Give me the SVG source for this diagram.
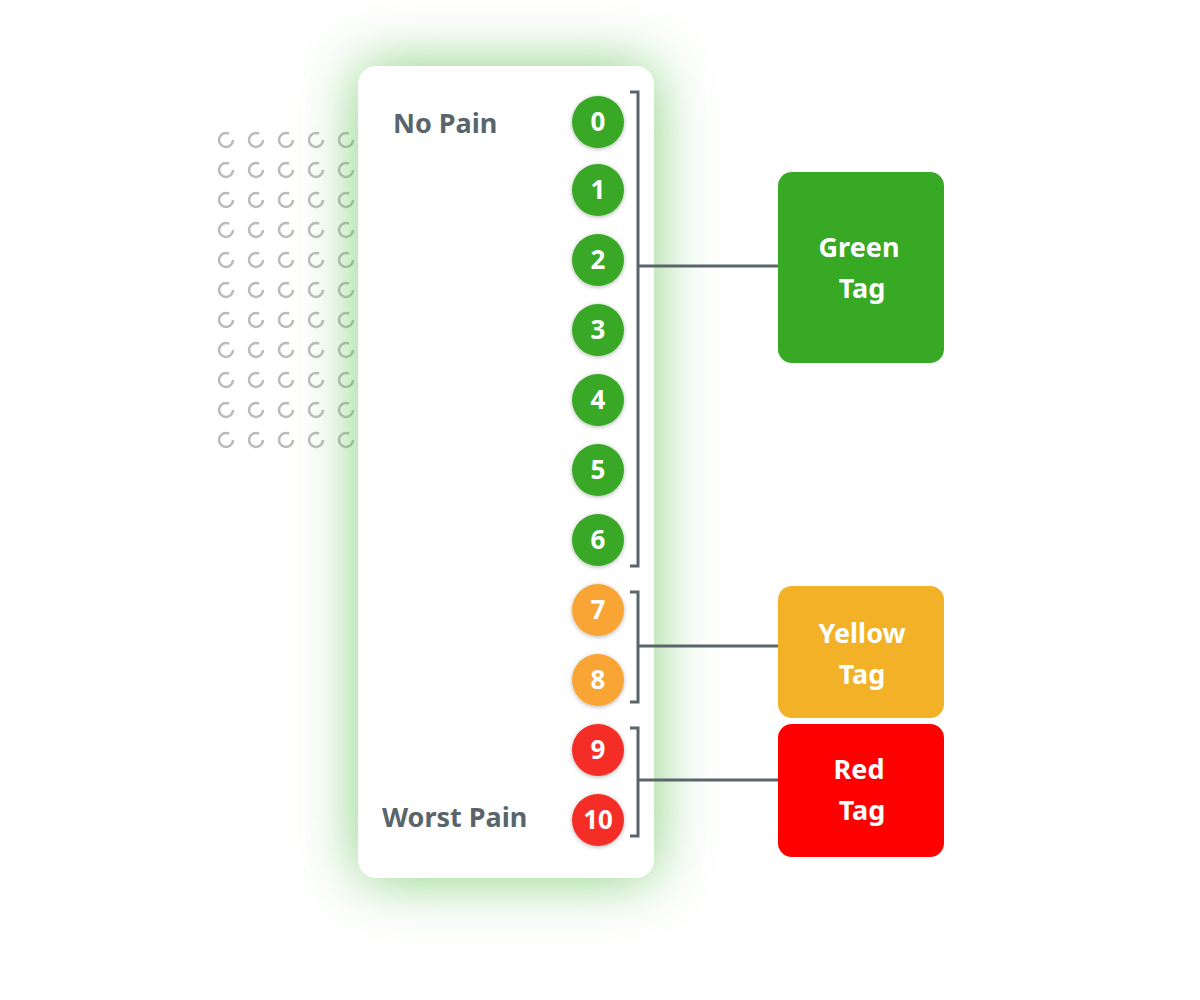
<svg xmlns="http://www.w3.org/2000/svg" width="1200" height="1000" viewBox="0 0 1200 1000">
<defs>
<filter id="glow" x="-50%" y="-30%" width="200%" height="160%"><feGaussianBlur stdDeviation="30"/></filter>
<filter id="sh" x="-30%" y="-30%" width="160%" height="160%"><feDropShadow dx="0" dy="1" stdDeviation="2" flood-color="#000" flood-opacity="0.3"/></filter>
<style>
.d{fill:none;stroke:#bbb;stroke-width:2.5;stroke-dasharray:36 8}
.lbl{font-family:"Noto Sans","Liberation Sans",sans-serif;font-weight:bold;font-size:27px;fill:#5a656b}
.n{font-family:"Noto Sans","Liberation Sans",sans-serif;font-weight:bold;font-size:26px;fill:#fff;text-anchor:middle}
.t{font-family:"Noto Sans","Liberation Sans",sans-serif;font-weight:bold;font-size:27px;fill:#fff;text-anchor:middle}
.g{fill:#38a825}.y{fill:#f9a535}.r{fill:#f42d25}
.c{fill:none;stroke:#5a656b;stroke-width:3}
</style>
</defs>
<g id="dots">
<g class="d">
<circle cx="226" cy="140" r="7"/><circle cx="256" cy="140" r="7"/><circle cx="286" cy="140" r="7"/><circle cx="316" cy="140" r="7"/><circle cx="346" cy="140" r="7"/>
<circle cx="226" cy="170" r="7"/><circle cx="256" cy="170" r="7"/><circle cx="286" cy="170" r="7"/><circle cx="316" cy="170" r="7"/><circle cx="346" cy="170" r="7"/>
<circle cx="226" cy="200" r="7"/><circle cx="256" cy="200" r="7"/><circle cx="286" cy="200" r="7"/><circle cx="316" cy="200" r="7"/><circle cx="346" cy="200" r="7"/>
<circle cx="226" cy="230" r="7"/><circle cx="256" cy="230" r="7"/><circle cx="286" cy="230" r="7"/><circle cx="316" cy="230" r="7"/><circle cx="346" cy="230" r="7"/>
<circle cx="226" cy="260" r="7"/><circle cx="256" cy="260" r="7"/><circle cx="286" cy="260" r="7"/><circle cx="316" cy="260" r="7"/><circle cx="346" cy="260" r="7"/>
<circle cx="226" cy="290" r="7"/><circle cx="256" cy="290" r="7"/><circle cx="286" cy="290" r="7"/><circle cx="316" cy="290" r="7"/><circle cx="346" cy="290" r="7"/>
<circle cx="226" cy="320" r="7"/><circle cx="256" cy="320" r="7"/><circle cx="286" cy="320" r="7"/><circle cx="316" cy="320" r="7"/><circle cx="346" cy="320" r="7"/>
<circle cx="226" cy="350" r="7"/><circle cx="256" cy="350" r="7"/><circle cx="286" cy="350" r="7"/><circle cx="316" cy="350" r="7"/><circle cx="346" cy="350" r="7"/>
<circle cx="226" cy="380" r="7"/><circle cx="256" cy="380" r="7"/><circle cx="286" cy="380" r="7"/><circle cx="316" cy="380" r="7"/><circle cx="346" cy="380" r="7"/>
<circle cx="226" cy="410" r="7"/><circle cx="256" cy="410" r="7"/><circle cx="286" cy="410" r="7"/><circle cx="316" cy="410" r="7"/><circle cx="346" cy="410" r="7"/>
<circle cx="226" cy="440" r="7"/><circle cx="256" cy="440" r="7"/><circle cx="286" cy="440" r="7"/><circle cx="316" cy="440" r="7"/><circle cx="346" cy="440" r="7"/>
</g>
</g>
<g id="card">
<rect x="358" y="66" width="296" height="812" rx="18" fill="#5fc050" opacity="0.75" filter="url(#glow)"/>
<rect x="358" y="66" width="296" height="812" rx="18" fill="#fff"/>
<text class="lbl" x="393" y="133">No Pain</text>
<text class="lbl" x="382" y="827">Worst Pain</text>
</g>
<g id="scale" filter="url(#sh)">
<circle class="g" cx="598" cy="122" r="26"/><circle class="g" cx="598" cy="190" r="26"/><circle class="g" cx="598" cy="260" r="26"/><circle class="g" cx="598" cy="330" r="26"/><circle class="g" cx="598" cy="400" r="26"/><circle class="g" cx="598" cy="470" r="26"/><circle class="g" cx="598" cy="540" r="26"/>
<circle class="y" cx="598" cy="610" r="26"/><circle class="y" cx="598" cy="680" r="26"/>
<circle class="r" cx="598" cy="750" r="26"/><circle class="r" cx="598" cy="820" r="26"/>
</g>
<g id="numbers">
<text class="n" x="598" y="131">0</text><text class="n" x="598" y="199">1</text><text class="n" x="598" y="269">2</text><text class="n" x="598" y="339">3</text><text class="n" x="598" y="409">4</text><text class="n" x="598" y="479">5</text><text class="n" x="598" y="549">6</text><text class="n" x="598" y="619">7</text><text class="n" x="598" y="689">8</text><text class="n" x="598" y="759">9</text><text class="n" x="598" y="829">10</text>
</g>
<g id="connectors">
<path class="c" d="M630 92H638V566H630M638 266H778"/>
<path class="c" d="M630 592H638V702H630M638 646H778"/>
<path class="c" d="M630 728H638V836H630M638 780H778"/>
</g>
<g id="green-tag"><rect x="778" y="172" width="166" height="191" rx="14" fill="#37a924"/><text class="t" x="859" y="257">Green</text><text class="t" x="862" y="298">Tag</text></g>
<g id="yellow-tag"><rect x="778" y="586" width="166" height="132" rx="14" fill="#f2b127"/><text class="t" x="862" y="643">Yellow</text><text class="t" x="862" y="684">Tag</text></g>
<g id="red-tag"><rect x="778" y="724" width="166" height="133" rx="14" fill="#ff0000"/><text class="t" x="859" y="779">Red</text><text class="t" x="862" y="820">Tag</text></g>
</svg>
